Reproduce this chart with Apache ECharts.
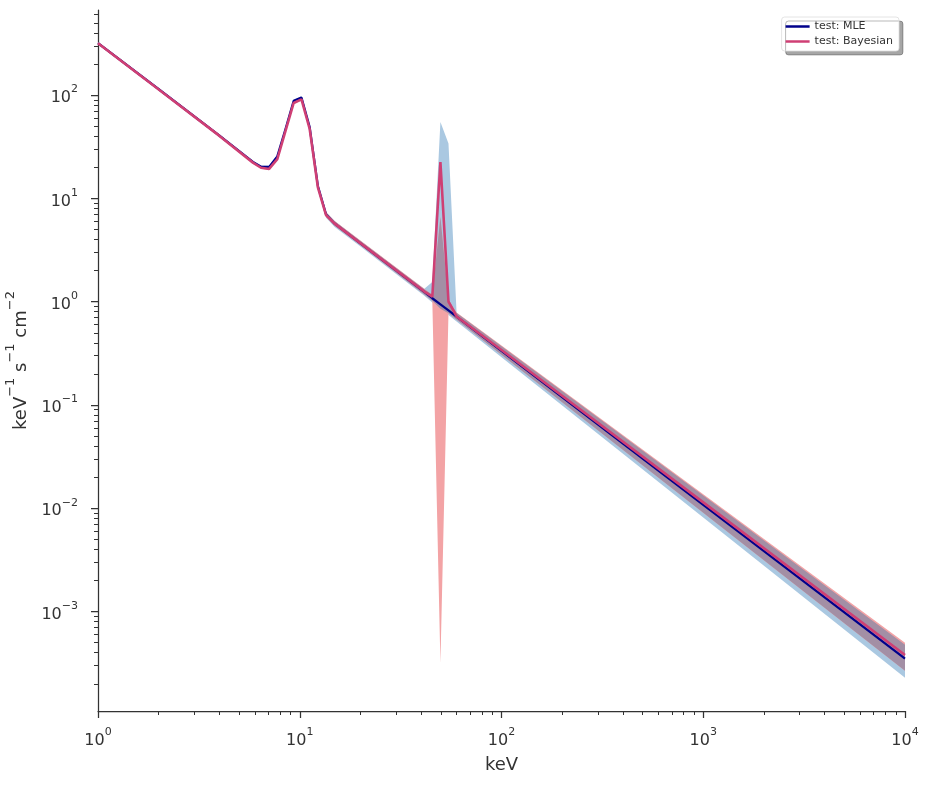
<!DOCTYPE html>
<html>
<head>
<meta charset="utf-8">
<script src="https://cdn.jsdelivr.net/npm/echarts@6/dist/echarts.min.js"></script>
<style>
  html, body { margin: 0; padding: 0; background: #ffffff; }
  #chart { width: 929px; height: 786px; }
</style>
</head>
<body>
<div id="chart"></div>
<script>
const energy = [1, 2, 4, 5.86, 6.43, 7.05, 7.74, 8.5, 9.33, 10.2, 11.2, 12.3, 13.5, 14.9, 20, 41.3, 45.4, 49.8, 54.6, 59.9, 100, 1000, 10000];

// MLE fit + its band
const mleFlux = [319, 114, 40.5, 22.6, 20.3, 20.2, 25.5, 47, 88, 95, 49, 13.2, 7.0, 5.7, 3.68, 1.25, 1.08, 0.944, 0.824, 0.718, 0.334, 0.0108, 3.5e-4];
const mleLow = [308.5, 110.2, 39.2, 21.9, 19.6, 19.5, 24.7, 45.4, 85.1, 91.9, 47.4, 12.54, 6.51, 5.30, 3.42, 1.146, 0.984, 0.856, 0.742, 0.643, 0.290, 8.14e-3, 2.29e-4];
const mleHigh = [327, 116.9, 41.5, 23.2, 20.8, 20.7, 26.1, 48.2, 90.2, 97.4, 50.2, 13.7, 7.38, 6.01, 3.88, 1.33, 1.55, 55, 34, 0.778, 0.370, 0.0133, 4.78e-4];

// Bayesian fit + its band
const bayesFlux = [318, 113.5, 40.3, 22.2, 19.8, 19.3, 24, 45, 84, 91, 47, 12.8, 6.9, 5.7, 3.68, 1.26, 1.12, 22.5, 1.0, 0.72, 0.341, 0.0114, 3.8e-4];
const bayesLow = [311.3, 111.1, 39.5, 21.7, 19.4, 18.9, 23.5, 44.1, 82.2, 89.1, 46.0, 12.39, 6.60, 5.45, 3.52, 1.18, 1.02, 3.2e-4, 0.772, 0.670, 0.306, 9.04e-3, 2.68e-4];
const bayesHigh = [327.2, 116.8, 41.5, 22.8, 20.4, 19.9, 24.7, 46.3, 86.4, 93.6, 48.4, 13.36, 7.33, 6.06, 3.91, 1.345, 1.17, 6.6, 1.05, 0.788, 0.376, 0.0137, 5.0e-4];

// tick labels
const xTicks = [1, 10, 100, 1000, 10000];
const yTicks = [1e-3, 1e-2, 1e-1, 1, 10, 100];

// where both bands overlap (drawn in the mixed colour)
const overlapLow = energy.map((e, i) => Math.max(mleLow[i], bayesLow[i]));
const overlapHigh = energy.map((e, i) => Math.min(mleHigh[i], bayesHigh[i]));

const textColor = '#333333';
const font = 'DejaVu Sans';

function powLabel(v) {
  const p = Math.round(Math.log10(v));
  return '{b|10}{s|' + (p < 0 ? '\u2212' + (-p) : p) + '}';
}

const labelRich = {
  b: { fontSize: 16, fontFamily: font, color: textColor, lineHeight: 22, verticalAlign: 'bottom' },
  s: { fontSize: 11, fontFamily: font, color: textColor, lineHeight: 12, verticalAlign: 'top' }
};

function bandSeries(name, lo, hi, color) {
  return {
    type: 'custom',
    name: name,
    coordinateSystem: 'cartesian2d',
    silent: true,
    z: 1,
    data: energy.map((e, i) => [e, lo[i], hi[i]]),
    encode: { x: 0, y: [1, 2] },
    renderItem: function (params, api) {
      if (params.dataIndex !== 0) return null;
      const top = energy.map((e, i) => api.coord([e, hi[i]]));
      const bottom = energy.map((e, i) => api.coord([e, lo[i]])).reverse();
      return {
        type: 'polygon',
        shape: { points: top.concat(bottom) },
        style: { fill: color }
      };
    }
  };
}

const chart = echarts.init(document.getElementById('chart'), null, { renderer: 'canvas' });

const option = {
  backgroundColor: '#ffffff',
  animation: false,
  grid: { left: 98, right: 24, top: 10, bottom: 75, outerBoundsMode: 'none' },
  legend: {
    right: 30,
    top: 17,
    orient: 'vertical',
    data: [
      { name: 'test: MLE', icon: 'rect' },
      { name: 'test: Bayesian', icon: 'rect' }
    ],
    itemWidth: 24,
    itemHeight: 2.5,
    itemGap: 4,
    padding: [4, 6, 4, 4],
    backgroundColor: '#ffffff',
    borderColor: '#dddddd',
    borderWidth: 0.8,
    borderRadius: 3,
    shadowColor: 'rgba(0,0,0,0.35)',
    shadowOffsetX: 4,
    shadowOffsetY: 4,
    shadowBlur: 0,
    textStyle: { fontSize: 11, fontFamily: font, color: textColor }
  },
  xAxis: {
    type: 'log',
    logBase: 10,
    min: 1,
    max: 10000,
    name: 'keV',
    nameLocation: 'middle',
    nameGap: 45,
    nameTextStyle: { fontSize: 18, fontFamily: font, color: textColor },
    axisLine: { lineStyle: { color: textColor, width: 1.25 } },
    axisTick: { show: true, inside: false, length: 7, lineStyle: { color: textColor, width: 1.25 }, customValues: xTicks },
    minorTick: { show: true, splitNumber: 9, length: 4, lineStyle: { color: textColor, width: 1 } },
    splitLine: { show: false },
    axisLabel: { margin: 16, formatter: powLabel, rich: labelRich, customValues: xTicks }
  },
  yAxis: {
    type: 'log',
    logBase: 10,
    min: 1.09e-4,
    max: 667,
    name: '{n|keV}{s|\u22121}{n| s}{s|\u22121}{n| cm}{s|\u22122}',
    nameLocation: 'middle',
    nameRotate: 90,
    nameGap: 66,
    nameTextStyle: {
      fontSize: 18, fontFamily: font, color: textColor,
      rich: {
        n: { fontSize: 18, fontFamily: font, color: textColor, verticalAlign: 'bottom', lineHeight: 26 },
        s: { fontSize: 13, fontFamily: font, color: textColor, verticalAlign: 'top', lineHeight: 14 }
      }
    },
    axisLine: { lineStyle: { color: textColor, width: 1.25 } },
    axisTick: { show: true, inside: false, length: 7, lineStyle: { color: textColor, width: 1.25 }, customValues: yTicks },
    minorTick: { show: true, splitNumber: 9, length: 4, lineStyle: { color: textColor, width: 1 } },
    splitLine: { show: false },
    axisLabel: { margin: 20, formatter: powLabel, rich: labelRich, customValues: yTicks }
  },
  series: [
    bandSeries('mle band', mleLow, mleHigh, '#aac8e1'),
    bandSeries('bayes band', bayesLow, bayesHigh, '#f3a3a5'),
    bandSeries('overlap', overlapLow, overlapHigh, '#a38fa5'),
    {
      type: 'line',
      name: 'test: MLE',
      data: energy.map((e, i) => [e, mleFlux[i]]),
      showSymbol: false,
      lineStyle: { color: '#00008b', width: 2.2 },
      itemStyle: { color: '#00008b' },
      z: 3
    },
    {
      type: 'line',
      name: 'test: Bayesian',
      data: energy.map((e, i) => [e, bayesFlux[i]]),
      showSymbol: false,
      lineStyle: { color: '#cf3f74', width: 2.6 },
      itemStyle: { color: '#cf3f74' },
      z: 4
    }
  ]
};

chart.setOption(option);
</script>
</body>
</html>
